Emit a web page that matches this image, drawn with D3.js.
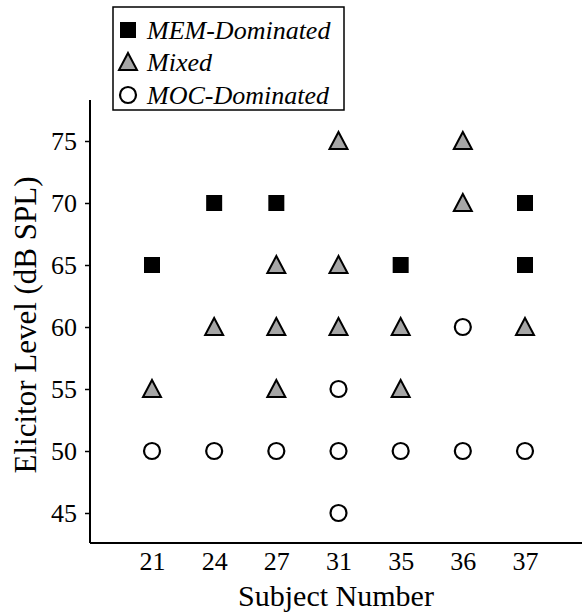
<!DOCTYPE html>
<html>
<head>
<meta charset="utf-8">
<script src="https://cdn.jsdelivr.net/npm/d3@7"></script>
<style>
  html, body { margin: 0; padding: 0; background: #fff; }
  svg { display: block; }
  text { font-family: "Liberation Serif", "Times New Roman", serif; fill: #000; }
</style>
</head>
<body>
<svg id="chart" width="582" height="614"></svg>
<script>
const subjects = ["21", "24", "27", "31", "35", "36", "37"];
const yTicks = [45, 50, 55, 60, 65, 70, 75];
const memPoints = [["21", 65], ["24", 70], ["27", 70], ["35", 65], ["37", 70], ["37", 65]];
const mixedPoints = [["21", 55], ["24", 60], ["27", 65], ["27", 60], ["27", 55],
  ["31", 75], ["31", 65], ["31", 60], ["35", 60], ["35", 55],
  ["36", 75], ["36", 70], ["37", 60]];
const mocPoints = [["21", 50], ["24", 50], ["27", 50], ["31", 55], ["31", 50], ["31", 45],
  ["35", 50], ["36", 60], ["36", 50], ["37", 50]];
const legendLabels = ["MEM-Dominated", "Mixed", "MOC-Dominated"];
const xTitle = "Subject Number";
const yTitle = "Elicitor Level (dB SPL)";

const svg = d3.select("#chart");
const x = d3.scalePoint().domain(subjects).range([152, 525]);
const y = d3.scaleLinear().domain([45, 75]).range([513, 141]);

const axisLeftX = 90, axisBottomY = 543;

// y axis
const yAxis = svg.append("g").attr("transform", `translate(${axisLeftX},0)`)
  .call(d3.axisLeft(y).tickValues(yTicks).tickSize(5).tickPadding(8).tickSizeOuter(0));
yAxis.attr("font-family", null).attr("font-size", null);
yAxis.select(".domain").remove();
yAxis.selectAll(".tick line").attr("stroke", "#000").attr("stroke-width", 1.5);
yAxis.selectAll(".tick text").style("font-size", "26px");
svg.append("line").attr("x1", axisLeftX).attr("x2", axisLeftX).attr("y1", 100).attr("y2", axisBottomY)
  .attr("stroke", "#000").attr("stroke-width", 2);

// x axis
const xAxis = svg.append("g").attr("transform", `translate(0,${axisBottomY})`)
  .call(d3.axisBottom(x).tickSize(0).tickPadding(9));
xAxis.attr("font-family", null).attr("font-size", null);
xAxis.select(".domain").remove();
xAxis.selectAll(".tick text").style("font-size", "26px");
svg.append("line").attr("x1", axisLeftX).attr("x2", 582).attr("y1", axisBottomY).attr("y2", axisBottomY)
  .attr("stroke", "#000").attr("stroke-width", 2);

// titles
svg.append("text").attr("x", 336).attr("y", 606).attr("text-anchor", "middle")
  .style("font-size", "30px").text(xTitle);
svg.append("text").attr("transform", "translate(36,325) rotate(-90)").attr("text-anchor", "middle")
  .style("font-size", "31px").text(yTitle);

// marker shapes
const sq = 16;
const triPath = (cx, cy) => {
  const w = 18, h = 16;
  return `M${cx},${cy - h / 2 - 1}L${cx + w / 2},${cy + h / 2}L${cx - w / 2},${cy + h / 2}Z`;
};
const drawSquare = (g, cx, cy) => g.append("rect").attr("x", cx - sq / 2).attr("y", cy - sq / 2)
  .attr("width", sq).attr("height", sq).attr("fill", "#000");
const drawTri = (g, cx, cy) => g.append("path").attr("d", triPath(cx, cy))
  .attr("fill", "#a6a6a6").attr("stroke", "#000").attr("stroke-width", 2).attr("stroke-linejoin", "miter");
const drawCirc = (g, cx, cy) => g.append("circle").attr("cx", cx).attr("cy", cy).attr("r", 8)
  .attr("fill", "#fff").attr("stroke", "#000").attr("stroke-width", 2.2);

const pts = svg.append("g");
memPoints.forEach(d => drawSquare(pts, x(d[0]), y(d[1])));
mixedPoints.forEach(d => drawTri(pts, x(d[0]), y(d[1])));
mocPoints.forEach(d => drawCirc(pts, x(d[0]), y(d[1])));

// legend
const lg = svg.append("g");
lg.append("rect").attr("x", 113).attr("y", 7).attr("width", 231).attr("height", 103)
  .attr("fill", "#fff").attr("stroke", "#000").attr("stroke-width", 1.5);
const lys = [30, 62, 95];
drawSquare(lg, 128, lys[0]);
drawTri(lg, 128, lys[1]);
drawCirc(lg, 128, lys[2]);
legendLabels.forEach((t, i) => {
  lg.append("text").attr("x", 147).attr("y", lys[i] + 9).style("font-size", "26px")
    .style("font-style", "italic").text(t);
});
</script>
</body>
</html>
